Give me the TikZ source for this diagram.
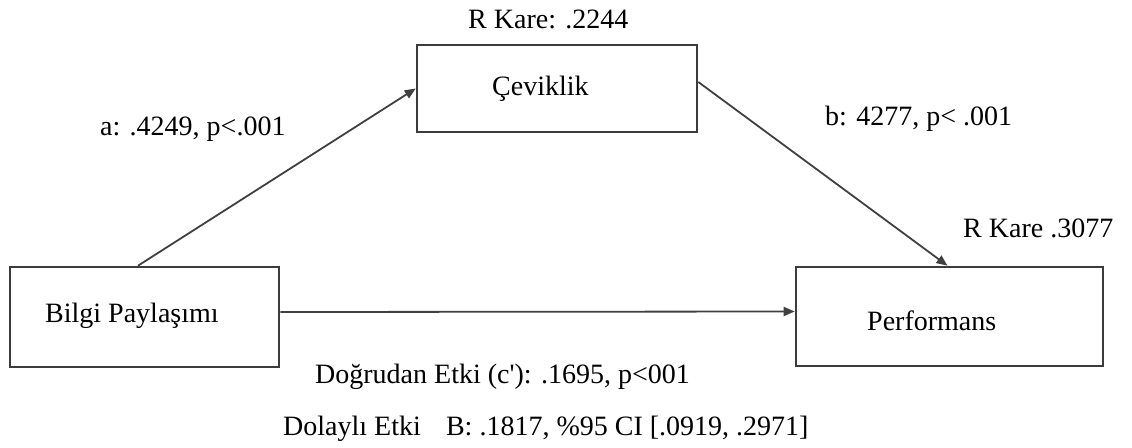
\documentclass[tikz,border=0pt]{standalone}
\usepackage{fontspec}
\setmainfont{Liberation Serif}
\usetikzlibrary{arrows.meta}
\tikzset{
  box/.style={draw=boxgray, line width=2.6pt, rectangle, inner sep=0pt},
  txt/.style={anchor=base west, inner sep=0pt, font=\fontsize{28}{34}\selectfont, text=black},
  conn/.style={draw=linegray, line width=1.8pt, -{Triangle[length=11pt,width=9pt]}}
}
\definecolor{boxgray}{HTML}{3C3C3C}
\definecolor{linegray}{HTML}{404040}
\begin{document}
\begin{tikzpicture}[x=1pt,y=-1pt]
\useasboundingbox (0,0) rectangle (1132,447);
% boxes
\node[box, minimum width=269pt, minimum height=100pt] (bilgi) at (144.5,317) {};
\node[box, minimum width=280pt, minimum height=87pt] (cev) at (557,88.5) {};
\node[box, minimum width=307pt, minimum height=99pt] (perf) at (949.5,316.5) {};
% box texts
\node[txt] (tbilgi) at (45,322) {Bilgi Paylaşımı};
\node[txt] (tcev) at (492,95) {Çeviklik};
\node[txt] (tperf) at (867,330) {Performans};
% connectors
\draw[conn] ([xshift=-6.5pt]bilgi.north) -- (cev.west);
\draw[conn] ([yshift=6.5pt]cev.east) -- ([xshift=-2pt]perf.north);
\draw[conn] ([yshift=5pt]bilgi.east) -- ([yshift=5pt]perf.west);
% labels
\node[txt] (rk1) at (468,28) {R Kare: .2244};
\node[txt] (la) at (100,135) {a: .4249, p<.001};
\node[txt] (lb) at (825,125) {b: 4277, p< .001};
\node[txt] (rk2) at (963,237) {R Kare .3077};
\node[txt] (lc) at (315,383) {Doğrudan Etki (c\textquotesingle): .1695, p<001};
\node[txt] (ld) at (283,435) {Dolaylı Etki\hspace{0.9em}B: .1817, \%95 CI [.0919, .2971]};
\end{tikzpicture}
\end{document}
